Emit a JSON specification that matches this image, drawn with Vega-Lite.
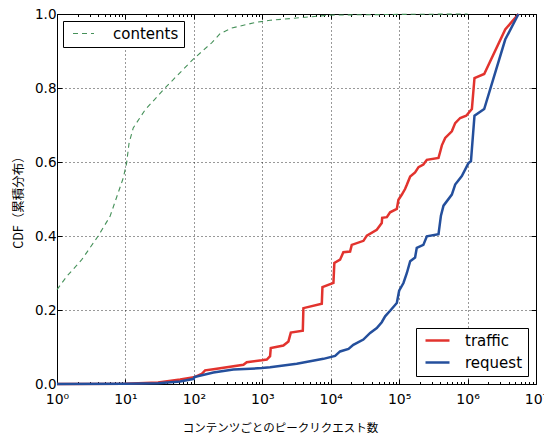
{
  "$schema": "https://vega.github.io/schema/vega-lite/v6.json",
  "width": 479,
  "height": 370,
  "autosize": {"type": "none"},
  "padding": {"left": 57, "top": 14, "right": 8, "bottom": 51},
  "config": {
    "view": {"stroke": "#000", "strokeWidth": 1},
    "font": "DejaVu Sans",
    "axis": {"domain": false, "labelColor": "#000", "titleColor": "#000", "tickColor": "#000"}
  },
  "datasets": {
    "contents": [
      {"series": "contents", "x": 1, "y": 0.255},
      {"series": "contents", "x": 1.39, "y": 0.291},
      {"series": "contents", "x": 2.3, "y": 0.336},
      {"series": "contents", "x": 4.0, "y": 0.4},
      {"series": "contents", "x": 5.96, "y": 0.453},
      {"series": "contents", "x": 9.3, "y": 0.557},
      {"series": "contents", "x": 10.4, "y": 0.597},
      {"series": "contents", "x": 11.3, "y": 0.651},
      {"series": "contents", "x": 13, "y": 0.692},
      {"series": "contents", "x": 19.4, "y": 0.741},
      {"series": "contents", "x": 37.9, "y": 0.8},
      {"series": "contents", "x": 98, "y": 0.878},
      {"series": "contents", "x": 182, "y": 0.922},
      {"series": "contents", "x": 242, "y": 0.947},
      {"series": "contents", "x": 357, "y": 0.962},
      {"series": "contents", "x": 785, "y": 0.977},
      {"series": "contents", "x": 1300, "y": 0.983},
      {"series": "contents", "x": 9800, "y": 0.997},
      {"series": "contents", "x": 100000, "y": 0.999},
      {"series": "contents", "x": 1000000, "y": 1.0}
    ],
    "cdf": [
      {"series": "traffic", "x": 1, "y": 0},
      {"series": "traffic", "x": 10, "y": 0.001},
      {"series": "traffic", "x": 30, "y": 0.004},
      {"series": "traffic", "x": 63, "y": 0.012},
      {"series": "traffic", "x": 100, "y": 0.018},
      {"series": "traffic", "x": 130, "y": 0.027},
      {"series": "traffic", "x": 146, "y": 0.037},
      {"series": "traffic", "x": 193, "y": 0.04},
      {"series": "traffic", "x": 530, "y": 0.052},
      {"series": "traffic", "x": 593, "y": 0.059},
      {"series": "traffic", "x": 984, "y": 0.064},
      {"series": "traffic", "x": 1164, "y": 0.066},
      {"series": "traffic", "x": 1300, "y": 0.075},
      {"series": "traffic", "x": 1330, "y": 0.097},
      {"series": "traffic", "x": 2033, "y": 0.104},
      {"series": "traffic", "x": 2410, "y": 0.115},
      {"series": "traffic", "x": 2612, "y": 0.139},
      {"series": "traffic", "x": 3910, "y": 0.144},
      {"series": "traffic", "x": 3990, "y": 0.205},
      {"series": "traffic", "x": 7410, "y": 0.217},
      {"series": "traffic", "x": 7570, "y": 0.262},
      {"series": "traffic", "x": 10960, "y": 0.273},
      {"series": "traffic", "x": 11300, "y": 0.327},
      {"series": "traffic", "x": 13700, "y": 0.336},
      {"series": "traffic", "x": 15300, "y": 0.356},
      {"series": "traffic", "x": 19200, "y": 0.358},
      {"series": "traffic", "x": 20300, "y": 0.376},
      {"series": "traffic", "x": 30100, "y": 0.387},
      {"series": "traffic", "x": 33700, "y": 0.401},
      {"series": "traffic", "x": 47100, "y": 0.417},
      {"series": "traffic", "x": 55700, "y": 0.435},
      {"series": "traffic", "x": 56500, "y": 0.449},
      {"series": "traffic", "x": 66100, "y": 0.451},
      {"series": "traffic", "x": 73800, "y": 0.464},
      {"series": "traffic", "x": 92500, "y": 0.473},
      {"series": "traffic", "x": 97700, "y": 0.498},
      {"series": "traffic", "x": 109600, "y": 0.512},
      {"series": "traffic", "x": 122000, "y": 0.527},
      {"series": "traffic", "x": 130000, "y": 0.539},
      {"series": "traffic", "x": 145000, "y": 0.561},
      {"series": "traffic", "x": 171000, "y": 0.572},
      {"series": "traffic", "x": 192000, "y": 0.586},
      {"series": "traffic", "x": 226000, "y": 0.593},
      {"series": "traffic", "x": 254000, "y": 0.606},
      {"series": "traffic", "x": 376000, "y": 0.611},
      {"series": "traffic", "x": 400000, "y": 0.629},
      {"series": "traffic", "x": 421000, "y": 0.645},
      {"series": "traffic", "x": 471000, "y": 0.665},
      {"series": "traffic", "x": 589000, "y": 0.683},
      {"series": "traffic", "x": 659000, "y": 0.705},
      {"series": "traffic", "x": 780000, "y": 0.719},
      {"series": "traffic", "x": 955000, "y": 0.725},
      {"series": "traffic", "x": 1156000, "y": 0.743},
      {"series": "traffic", "x": 1262000, "y": 0.827},
      {"series": "traffic", "x": 1750000, "y": 0.838},
      {"series": "traffic", "x": 3550000, "y": 0.958},
      {"series": "traffic", "x": 5550000, "y": 1.0},
      {"series": "request", "x": 1, "y": 0},
      {"series": "request", "x": 10, "y": 0.0005},
      {"series": "request", "x": 30, "y": 0.002},
      {"series": "request", "x": 63, "y": 0.007},
      {"series": "request", "x": 100, "y": 0.014},
      {"series": "request", "x": 102, "y": 0.019},
      {"series": "request", "x": 193, "y": 0.031},
      {"series": "request", "x": 378, "y": 0.039},
      {"series": "request", "x": 984, "y": 0.043},
      {"series": "request", "x": 1300, "y": 0.045},
      {"series": "request", "x": 3190, "y": 0.055},
      {"series": "request", "x": 7820, "y": 0.068},
      {"series": "request", "x": 11600, "y": 0.076},
      {"series": "request", "x": 13700, "y": 0.088},
      {"series": "request", "x": 18200, "y": 0.095},
      {"series": "request", "x": 21400, "y": 0.106},
      {"series": "request", "x": 30000, "y": 0.12},
      {"series": "request", "x": 37700, "y": 0.138},
      {"series": "request", "x": 47100, "y": 0.151},
      {"series": "request", "x": 55700, "y": 0.167},
      {"series": "request", "x": 62400, "y": 0.183},
      {"series": "request", "x": 73800, "y": 0.198},
      {"series": "request", "x": 92500, "y": 0.219},
      {"series": "request", "x": 100000, "y": 0.252},
      {"series": "request", "x": 115600, "y": 0.273},
      {"series": "request", "x": 129700, "y": 0.3},
      {"series": "request", "x": 145000, "y": 0.332},
      {"series": "request", "x": 171000, "y": 0.342},
      {"series": "request", "x": 181000, "y": 0.368},
      {"series": "request", "x": 226000, "y": 0.376},
      {"series": "request", "x": 254000, "y": 0.399},
      {"series": "request", "x": 376000, "y": 0.405},
      {"series": "request", "x": 408000, "y": 0.455},
      {"series": "request", "x": 445000, "y": 0.482},
      {"series": "request", "x": 589000, "y": 0.512},
      {"series": "request", "x": 659000, "y": 0.539},
      {"series": "request", "x": 824000, "y": 0.562},
      {"series": "request", "x": 1030000, "y": 0.597},
      {"series": "request", "x": 1120000, "y": 0.602},
      {"series": "request", "x": 1262000, "y": 0.725},
      {"series": "request", "x": 1750000, "y": 0.743},
      {"series": "request", "x": 3550000, "y": 0.931},
      {"series": "request", "x": 5550000, "y": 1.0}
    ]
  },
  "layer": [
    {
      "data": {"name": "contents"},
      "mark": {"type": "line", "color": "#46915a", "strokeWidth": 1.1},
      "encoding": {
        "x": {
          "field": "x", "type": "quantitative",
          "scale": {"type": "log", "domain": [1, 10000000], "nice": false},
          "axis": {
            "orient": "bottom",
            "values": [1, 10, 100, 1000, 10000, 100000, 1000000, 10000000],
            "labelExpr": "'10' + ['⁰','¹','²','³','⁴','⁵','⁶','⁷'][round(log(datum.value)/LN10)]",
            "labelFontSize": 14,
            "labelPadding": 13,
            "labelFlush": false,
            "labelOverlap": false,
            "tickSize": -5,
            "grid": true, "gridDash": [1, 3], "gridColor": "#000", "gridOpacity": 0.8,
            "title": "コンテンツごとのピークリクエスト数",
            "titleFont": "Noto Sans CJK JP",
            "titleFontSize": 11.5,
            "titleFontWeight": "normal",
            "titleX": 223,
            "titleY": 47,
            "titleAlign": "center",
            "titleBaseline": "alphabetic",
            "titleLimit": 400
          }
        },
        "y": {
          "field": "y", "type": "quantitative",
          "scale": {"domain": [0, 1], "nice": false},
          "axis": {
            "orient": "left",
            "values": [0, 0.2, 0.4, 0.6, 0.8, 1.0],
            "format": ".1f",
            "labelFontSize": 13.5,
            "labelPadding": 6,
            "tickSize": -5,
            "grid": true, "gridDash": [1, 3], "gridColor": "#000", "gridOpacity": 0.8,
            "title": "CDF（累積分布）",
            "titleFont": "Noto Sans CJK JP",
            "titleFontSize": 12.5,
            "titleFontWeight": "normal",
            "titlePadding": 9
          }
        },
        "strokeDash": {
          "field": "series", "type": "nominal",
          "scale": {"domain": ["contents"], "range": [[5, 4]]},
          "legend": {
            "title": null,
            "orient": "none", "legendX": 6, "legendY": 7,
            "fillColor": "#fff", "strokeColor": "#000",
            "padding": 5,
            "symbolType": "M-3.5,0H3.5", "symbolSize": 36,
            "symbolStrokeColor": "#46915a", "symbolStrokeWidth": 1.1,
            "symbolOffset": 8,
            "labelOffset": 22,
            "labelFontSize": 15, "labelColor": "#000"
          }
        }
      }
    },
    {
      "data": {"name": "cdf"},
      "mark": {"type": "line", "strokeWidth": 2.5},
      "encoding": {
        "x": {
          "field": "x", "type": "quantitative",
          "axis": {
            "orient": "top",
            "values": [1, 10, 100, 1000, 10000, 100000, 1000000, 10000000],
            "labels": false, "grid": false, "tickSize": -5, "title": null
          }
        },
        "y": {
          "field": "y", "type": "quantitative",
          "axis": {
            "orient": "right",
            "values": [0, 0.2, 0.4, 0.6, 0.8, 1.0],
            "labels": false, "grid": false, "tickSize": -5, "title": null
          }
        },
        "color": {
          "field": "series", "type": "nominal",
          "scale": {"domain": ["traffic", "request"], "range": ["#e2332e", "#244f9c"]},
          "legend": {
            "title": null,
            "orient": "none", "legendX": 359, "legendY": 314,
            "fillColor": "#fff", "strokeColor": "#000",
            "padding": 5,
            "symbolType": "M-4,0H4", "symbolSize": 36,
            "symbolStrokeWidth": 2.5,
            "symbolOffset": 9,
            "labelOffset": 20,
            "rowPadding": 6,
            "labelFontSize": 15, "labelColor": "#000"
          }
        }
      }
    },
    {
      "data": {"name": "contents"},
      "mark": {"type": "line", "opacity": 0},
      "encoding": {
        "x": {
          "field": "x", "type": "quantitative",
          "axis": {
            "orient": "bottom",
            "values": [2,3,4,5,6,7,8,9,20,30,40,50,60,70,80,90,200,300,400,500,600,700,800,900,2000,3000,4000,5000,6000,7000,8000,9000,20000,30000,40000,50000,60000,70000,80000,90000,200000,300000,400000,500000,600000,700000,800000,900000,2000000,3000000,4000000,5000000,6000000,7000000,8000000,9000000],
            "labels": false, "grid": false, "tickSize": -2.5, "title": null
          }
        },
        "y": {"field": "y", "type": "quantitative", "axis": null}
      }
    },
    {
      "data": {"name": "contents"},
      "mark": {"type": "line", "opacity": 0},
      "encoding": {
        "x": {
          "field": "x", "type": "quantitative",
          "axis": {
            "orient": "top",
            "values": [2,3,4,5,6,7,8,9,20,30,40,50,60,70,80,90,200,300,400,500,600,700,800,900,2000,3000,4000,5000,6000,7000,8000,9000,20000,30000,40000,50000,60000,70000,80000,90000,200000,300000,400000,500000,600000,700000,800000,900000,2000000,3000000,4000000,5000000,6000000,7000000,8000000,9000000],
            "labels": false, "grid": false, "tickSize": -2.5, "title": null
          }
        },
        "y": {"field": "y", "type": "quantitative", "axis": null}
      }
    }
  ],
  "resolve": {"axis": {"x": "independent", "y": "independent"}}
}
